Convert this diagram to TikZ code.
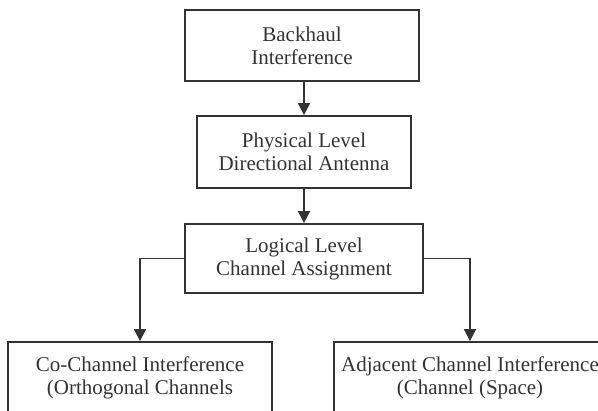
\documentclass[tikz,border=0pt]{standalone}
\usepackage{fontspec}
\setmainfont{Liberation Serif}
\usetikzlibrary{arrows.meta}
\definecolor{ink}{HTML}{333333}
\tikzset{
  box/.style={draw=ink, line width=1.8pt, fill=white, align=center, inner sep=0pt,
    font=\fontsize{21}{23}\selectfont, text=ink},
  conn/.style={draw=ink, line width=1.8pt, -{Triangle[length=12pt,width=12pt]}}
}
\begin{document}
\begin{tikzpicture}[x=1pt,y=-1pt]
\clip (0,0) rectangle (598,411);
\fill[white] (0,0) rectangle (598,411);
\node[box, minimum width=234pt, minimum height=71pt] (b1) at (302,45.5) {Backhaul\\Interference};
\node[box, minimum width=214pt, minimum height=72pt] (b2) at (304,152) {Physical Level\\Directional Antenna};
\node[box, minimum width=238pt, minimum height=69pt] (b3) at (304,258.5) {Logical Level\\Channel Assignment};
\node[box, minimum width=264pt, minimum height=72pt] (l) at (140,378) {Co-Channel Interference\\(Orthogonal Channels};
\node[box, minimum width=272pt, minimum height=72pt] (r) at (470,378) {Adjacent Channel Interference\\(Channel (Space)};
\draw[conn] (b1.south -| b2.north) -- (b2.north);
\draw[conn] (b2.south) -- (b3.north);
\draw[conn] (b3.west) -| (l.north);
\draw[conn] (b3.east) -| (r.north);
\end{tikzpicture}
\end{document}
